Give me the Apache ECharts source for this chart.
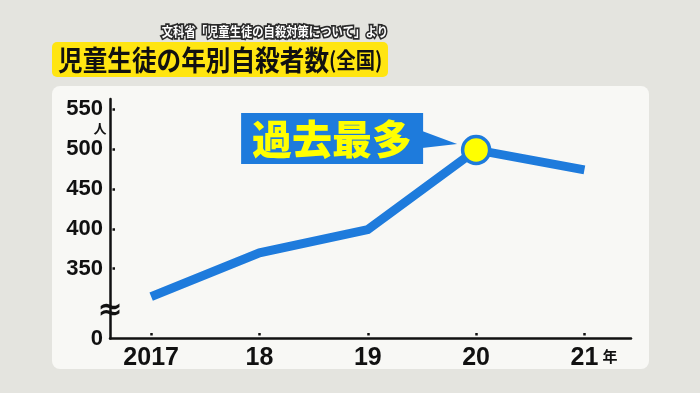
<!DOCTYPE html>
<html><head><meta charset="utf-8">
<script src="https://cdn.jsdelivr.net/npm/echarts@6/dist/echarts.min.js"></script>
<style>html,body{margin:0;padding:0;background:#e4e4df;}#c{width:700px;height:393px;}</style>
</head><body><div id="c"></div>
<script>
// ---- data ----
const years = [2017, 2018, 2019, 2020, 2021];
const yearLabels = ['2017', '18', '19', '20', '21'];
const suicides = [315, 370, 399, 499, 474];
const yTickValues = [350, 400, 450, 500, 550];
const yBreakLabel = '0';
const titleText = '児童生徒の年別自殺者数';
const titleSuffix = '(全国)';
const sourceText = '文科省「児童生徒の自殺対策について」より';
const calloutText = '過去最多';
const yUnit = '人';
const xUnit = '年';

// axis ranges (the bottom of the y-axis stands for the broken "0")
const YMIN = 262.4, YMAX = 562.9;
const XMIN = 2016.62, XMAX = 2021.43;

const JP = '"Noto Sans CJK JP", sans-serif';
const NUM = '"Liberation Sans", Arial, sans-serif';
const BLUE = '#1e7bdc';

const peakIdx = suicides.indexOf(Math.max(...suicides));
const seriesData = years.map((y, i) => i === peakIdx
  ? { value: [y, suicides[i]], symbol: 'circle', symbolSize: 27,
      itemStyle: { color: '#ffff00', borderColor: BLUE, borderWidth: 3.5 } }
  : { value: [y, suicides[i]], symbol: 'none' });

const chart = echarts.init(document.getElementById('c'), null, { renderer: 'canvas' });
const option = {
  backgroundColor: '#e4e4df',
  animation: false,
  grid: { left: 110, right: 69, top: 99, bottom: 54.5, containLabel: false },
  xAxis: {
    type: 'value', min: XMIN, max: XMAX,
    splitLine: { show: false },
    axisLine: { show: true, lineStyle: { color: '#111', width: 2.5 } },
    axisTick: { show: true, inside: true, length: 7, customValues: years,
      lineStyle: { color: '#111', width: 2.5, type: [0, 3, 2.5, 10] } },
    axisLabel: {
      customValues: years, margin: 7, color: '#111',
      fontFamily: NUM, fontWeight: 'bold', fontSize: 25,
      formatter: v => yearLabels[years.indexOf(Math.round(v))]
    }
  },
  yAxis: {
    type: 'value', min: YMIN, max: YMAX,
    splitLine: { show: false },
    axisLine: { show: true, lineStyle: { color: '#111', width: 2.5 } },
    axisTick: { show: true, inside: true, length: 7, customValues: yTickValues,
      lineStyle: { color: '#111', width: 2.5, type: [0, 2.5, 2.5, 10] } },
    axisLabel: {
      customValues: [YMIN].concat(yTickValues), margin: 7, color: '#111',
      fontFamily: NUM, fontWeight: 'bold', fontSize: 22,
      formatter: v => (Math.abs(v - YMIN) < 0.01 ? yBreakLabel : String(Math.round(v)))
    }
  },
  series: [{
    type: 'line', data: seriesData, symbol: 'none', showSymbol: true,
    lineStyle: { color: BLUE, width: 9, join: 'miter', cap: 'butt' },
    itemStyle: { color: BLUE }, z: 5
  }]
};
chart.setOption(option);

const pk = chart.convertToPixel({ gridIndex: 0 }, [years[peakIdx], suicides[peakIdx]]);
const axisOrigin = chart.convertToPixel({ gridIndex: 0 }, [XMIN, YMIN]);
const lastX = chart.convertToPixel({ gridIndex: 0 }, [years[years.length - 1], YMIN]);
const top550 = chart.convertToPixel({ gridIndex: 0 }, [XMIN, yTickValues[yTickValues.length - 1]]);
const brk = chart.convertToPixel({ gridIndex: 0 }, [XMIN, 297]);

chart.setOption({
  graphic: [
    // panel
    { type: 'rect', shape: { x: 52, y: 86, width: 597, height: 283, r: 8 },
      style: { fill: '#f8f8f5' }, z: -10, silent: true },
    // title box
    { type: 'rect', shape: { x: 52, y: 42, width: 336, height: 35, r: 5 },
      style: { fill: '#ffe511' }, z: 1 },
    { type: 'text', x: 58, y: 60, z: 2, scaleX: 0.88,
      style: { text: '{a|' + titleText + '}{b|' + titleSuffix + '}', verticalAlign: 'middle', align: 'left',
        rich: { a: { fontFamily: JP, fontWeight: 'bold', fontSize: 28, fill: '#111' },
                b: { fontFamily: JP, fontWeight: 'bold', fontSize: 22, fill: '#111' } } } },
    // source
    { type: 'text', x: 388, y: 31, z: 2, scaleX: 0.87,
      style: { text: sourceText, align: 'right', verticalAlign: 'middle',
        fontFamily: JP, fontWeight: 'bold', fontSize: 13, fill: '#fff',
        stroke: '#2a2a2a', lineWidth: 3.5 } },
    // unit 人
    { type: 'text', x: 100, y: top550[1] + 19, z: 3,
      style: { text: yUnit, align: 'center', verticalAlign: 'middle',
        fontFamily: JP, fontWeight: 'bold', fontSize: 13, fill: '#111' } },
    // unit 年
    { type: 'text', x: lastX[0] + 18, y: lastX[1] + 18, z: 3,
      style: { text: xUnit, align: 'left', verticalAlign: 'middle',
        fontFamily: JP, fontWeight: 'bold', fontSize: 15, fill: '#111' } },
    // break mark
    { type: 'text', x: axisOrigin[0], y: brk[1], z: 6,
      style: { text: '≈', align: 'center', verticalAlign: 'middle',
        fontFamily: '"DejaVu Sans"', fontWeight: 'bold', fontSize: 30, fill: '#111' } },
    // callout
    { type: 'rect', z: 6, shape: { x: pk[0] - 235, y: pk[1] - 37, width: 182, height: 51 },
      style: { fill: BLUE } },
    { type: 'polygon', z: 6, shape: { points: [[pk[0] - 54, pk[1] - 19], [pk[0] - 19, pk[1] - 6], [pk[0] - 54, pk[1] - 2]] },
      style: { fill: BLUE } },
    { type: 'text', z: 7, x: pk[0] - 144, y: pk[1] - 11,
      style: { text: calloutText, align: 'center', verticalAlign: 'middle',
        fontFamily: JP, fontWeight: 900, fontSize: 40, fill: '#ffff00' } }
  ]
});
</script>
</body></html>
